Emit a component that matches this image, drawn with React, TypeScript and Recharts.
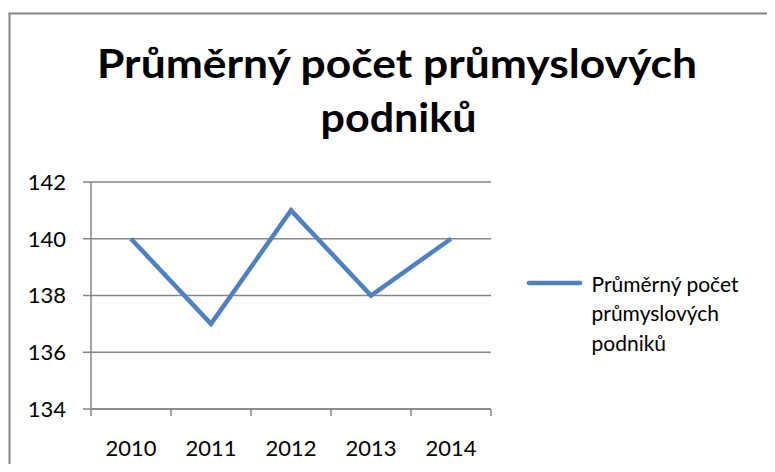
import React from 'react';
import { LineChart, Line, XAxis, YAxis, CartesianGrid, Legend } from 'recharts';

const years = ['2010', '2011', '2012', '2013', '2014'];
const values = [140, 137, 141, 138, 140];
const yTicks = [134, 136, 138, 140, 142];
const seriesName = 'Průměrný počet průmyslových podniků';
const titleLines = ['Průměrný počet průmyslových', 'podniků'];
const legendLines = ['Průměrný počet', 'průmyslových', 'podniků'];

const data = years.map((y, i) => ({ idx: i, year: y, value: values[i] }));
const xTicks: number[] = [];
for (let i = -1; i < years.length; i++) {
  xTicks.push(i + 0.5);
  if (i + 1 < years.length) xTicks.push(i + 1);
}

const FONT = 'Lato, "Open Sans", sans-serif';
const GRAY = '#868686';
const BLUE = '#4F81BD';

const XTick = (props: any) => {
  const { x, y, payload } = props;
  const v = payload.value;
  if (Number.isInteger(v)) {
    return (
      <text x={x} y={y + 47} textAnchor="middle" fontFamily={FONT} fontSize={22} fill="#000">
        {years[v]}
      </text>
    );
  }
  return <line x1={x} x2={x} y1={y} y2={y + 7} stroke={GRAY} strokeWidth={1.5} />;
};

const LegendContent = () => (
  <svg width={250} height={100} style={{ display: 'block' }}>
    <line x1={9} x2={60} y1={18} y2={18} stroke={BLUE} strokeWidth={4.5} strokeLinecap="round" />
    {legendLines.map((t, i) => (
      <text key={i} x={71.5} y={26.7 + i * 29.5} fontFamily={FONT} fontSize={21} fill="#000">
        {t}
      </text>
    ))}
  </svg>
);

export default function App() {
  return (
    <div style={{ position: 'relative', width: 775, height: 472, margin: -8, background: '#fff', overflow: 'hidden' }}>
      <LineChart
        width={775}
        height={472}
        data={data}
        margin={{ top: 182, right: 284, bottom: 0, left: 0 }}
      >
        <CartesianGrid vertical={false} stroke={GRAY} strokeWidth={1.5} />
        <XAxis
          dataKey="idx"
          type="number"
          domain={[-0.5, 4.5]}
          ticks={xTicks}
          interval={0}
          height={63}
          tickLine={false}
          tickSize={0}
          tickMargin={0}
          axisLine={{ stroke: GRAY, strokeWidth: 1.5 }}
          tick={<XTick />}
        />
        <YAxis
          type="number"
          domain={[134, 142]}
          ticks={yTicks}
          interval={0}
          width={91}
          tickSize={8}
          tickMargin={17}
          axisLine={{ stroke: GRAY, strokeWidth: 1.5 }}
          tickLine={{ stroke: GRAY, strokeWidth: 1.5 }}
          tick={{ fill: '#000', fontSize: 22, fontFamily: FONT }}
        />
        <Legend
          layout="horizontal"
          verticalAlign="middle"
          align="center"
          wrapperStyle={{ left: 520, top: 265, width: 250, height: 100 }}
          content={<LegendContent />}
        />
        <Line
          type="linear"
          dataKey="value"
          name={seriesName}
          stroke={BLUE}
          strokeWidth={4.5}
          dot={false}
          activeDot={false}
          isAnimationActive={false}
        />
      </LineChart>
      <svg
        width={775}
        height={472}
        style={{ position: 'absolute', left: 0, top: 0, pointerEvents: 'none' }}
      >
        <line x1={9.5} x2={9.5} y1={13} y2={472} stroke={GRAY} strokeWidth={2} />
        <line x1={8.5} x2={775} y1={13.5} y2={13.5} stroke={GRAY} strokeWidth={2} />
        <text x={397} y={77.7} textAnchor="middle" fontFamily={FONT} fontWeight="bold" fontSize={41} fill="#000" textLength={600} lengthAdjust="spacingAndGlyphs">
          {titleLines[0]}
        </text>
        <text x={398.5} y={132.3} textAnchor="middle" fontFamily={FONT} fontWeight="bold" fontSize={41} fill="#000" textLength={156} lengthAdjust="spacingAndGlyphs">
          {titleLines[1]}
        </text>
      </svg>
    </div>
  );
}
